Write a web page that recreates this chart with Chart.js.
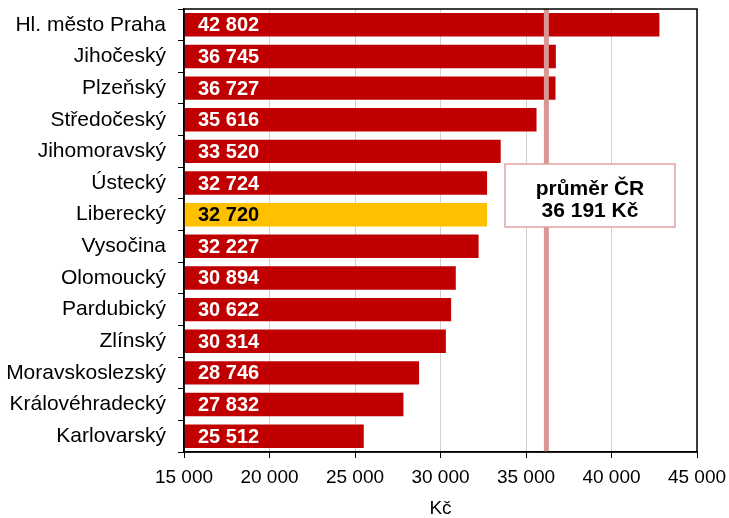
<!DOCTYPE html>
<html>
<head>
<meta charset="utf-8">
<script src="https://cdn.jsdelivr.net/npm/chart.js@4"></script>
<style>
  html, body { margin: 0; padding: 0; background: #fff; }
  #wrap { width: 729px; height: 518px; }
</style>
</head>
<body>
<div id="wrap"><canvas id="myChart" width="729" height="518"></canvas></div>
<script>
// data
const kraje = ['Hl. město Praha', 'Jihočeský', 'Plzeňský', 'Středočeský', 'Jihomoravský', 'Ústecký',
  'Liberecký', 'Vysočina', 'Olomoucký', 'Pardubický', 'Zlínský', 'Moravskoslezský',
  'Královéhradecký', 'Karlovarský'];
const mzdy = [42802, 36745, 36727, 35616, 33520, 32724, 32720, 32227, 30894, 30622, 30314, 28746, 27832, 25512];
const prumerCR = 36191;
const xTicks = [15000, 20000, 25000, 30000, 35000, 40000, 45000];
const zvyrazneny = 'Liberecký';

const fmt = v => String(v).replace(/\B(?=(\d{3})+(?!\d))/g, ' ');
const FONT = 'Liberation Sans, Arial, sans-serif';

const extras = {
  id: 'extras',
  afterDatasetsDraw(chart) {
    const { ctx, chartArea: a, scales } = chart;
    const meta = chart.getDatasetMeta(0);
    ctx.save();
    // values inside the bars
    ctx.font = 'bold 20px ' + FONT;
    ctx.textBaseline = 'middle';
    ctx.textAlign = 'left';
    meta.data.forEach((bar, i) => {
      ctx.fillStyle = kraje[i] === zvyrazneny ? '#000' : '#fff';
      ctx.fillText(fmt(mzdy[i]), a.left + 14, bar.y + 1);
    });
    // average line
    const xp = scales.x.getPixelForValue(prumerCR);
    ctx.strokeStyle = '#D99694';
    ctx.lineWidth = 5;
    ctx.beginPath();
    ctx.moveTo(xp, a.top);
    ctx.lineTo(xp, a.bottom);
    ctx.stroke();
    // frame
    ctx.strokeStyle = '#000';
    ctx.lineWidth = 1.5;
    ctx.strokeRect(a.left, a.top, a.right - a.left, a.bottom - a.top);
    // label box
    const bx = 505, by = 164, bw = 170, bh = 63;
    ctx.fillStyle = '#fff';
    ctx.fillRect(bx, by, bw, bh);
    ctx.strokeStyle = '#E0A3A3';
    ctx.lineWidth = 1.5;
    ctx.strokeRect(bx, by, bw, bh);
    ctx.fillStyle = '#000';
    ctx.textAlign = 'center';
    ctx.font = 'bold 21px ' + FONT;
    ctx.fillText('průměr ČR', bx + bw / 2, by + 25);
    ctx.fillText(fmt(prumerCR) + ' Kč', bx + bw / 2, by + 47);
    ctx.restore();
  }
};

new Chart(document.getElementById('myChart'), {
  type: 'bar',
  data: {
    labels: kraje,
    datasets: [{
      data: mzdy,
      backgroundColor: kraje.map(k => k === zvyrazneny ? '#FFC000' : '#C00000'),
      categoryPercentage: 1,
      barPercentage: 0.74,
      base: 15000
    }]
  },
  options: {
    indexAxis: 'y',
    responsive: false,
    animation: false,
    layout: { padding: { left: 0, right: 32, top: 9, bottom: 0 } },
    plugins: { legend: { display: false }, tooltip: { enabled: false } },
    scales: {
      x: {
        min: 15000, max: 45000,
        afterBuildTicks: s => { s.ticks = xTicks.map(v => ({ value: v })); },
        afterFit: s => { s.height = 66; s.paddingLeft = 0; s.paddingRight = 0; },
        ticks: { callback: v => fmt(v), color: '#000', font: { family: FONT, size: 19 }, padding: 8, maxRotation: 0 },
        grid: { color: '#D0D0D0', tickColor: '#000', tickLength: 6, lineWidth: 1 },
        border: { color: '#000', width: 1.5 },
        title: { display: true, text: 'Kč', color: '#000', font: { family: FONT, size: 19, lineHeight: 1 }, padding: { top: 4, bottom: 0 } }
      },
      y: {
        afterFit: s => { s.width = 184; s.paddingTop = 0; s.paddingBottom = 0; },
        ticks: { color: '#000', font: { family: FONT, size: 21 }, padding: 12 },
        grid: { drawOnChartArea: false, tickColor: '#000', tickLength: 6, offset: true },
        border: { color: '#000', width: 1.5 }
      }
    }
  },
  plugins: [extras]
});
</script>
</body>
</html>
